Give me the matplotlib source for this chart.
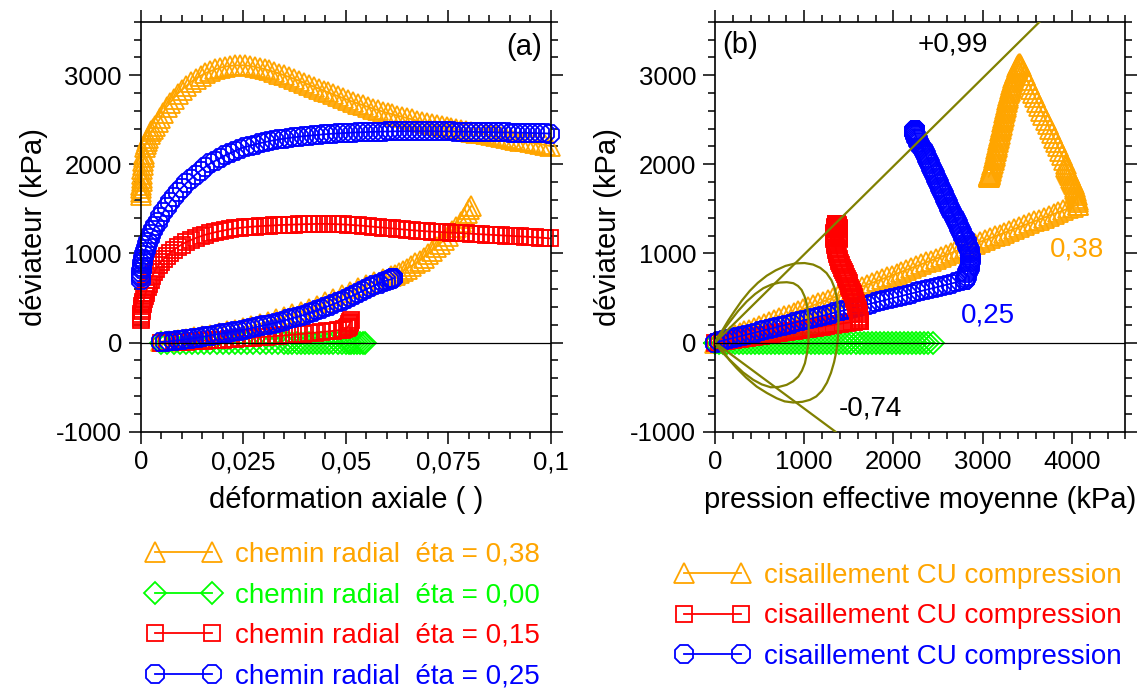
import matplotlib
matplotlib.use('Agg')
import matplotlib.pyplot as plt
from matplotlib.ticker import MultipleLocator

plt.rcParams['font.family'] = ['Liberation Sans', 'DejaVu Sans']
plt.rcParams['axes.unicode_minus'] = False

# ================= (a) déviateur q (kPa) en fonction de la déformation axiale =================
# chemins radiaux : (déformation axiale, q)
rad38_a = [(0.005, 12), (0.007, 22), (0.009, 32), (0.011, 44), (0.013, 57), (0.015, 72), (0.017, 88),
           (0.019, 106), (0.021, 125), (0.023, 145), (0.025, 166), (0.027, 188), (0.029, 211),
           (0.031, 236), (0.033, 262), (0.035, 289), (0.037, 318), (0.039, 348), (0.041, 380),
           (0.043, 414), (0.045, 450), (0.047, 488), (0.049, 528), (0.051, 568), (0.053, 608),
           (0.055, 645), (0.057, 680), (0.059, 712), (0.061, 742), (0.062, 760), (0.063, 780),
           (0.064, 805), (0.065, 830), (0.066, 858), (0.067, 888), (0.068, 920), (0.069, 954),
           (0.07, 990), (0.071, 1028), (0.072, 1068), (0.073, 1110), (0.074, 1154), (0.075, 1200),
           (0.076, 1248), (0.077, 1298), (0.078, 1350), (0.0788, 1400), (0.0795, 1450),
           (0.0801, 1495), (0.0806, 1530)]

rad00_a = [(0.005, 0), (0.0065, 0), (0.008, 0), (0.0095, 0), (0.011, 0), (0.0125, 0), (0.014, 0),
           (0.0155, 0), (0.017, 0), (0.0185, 0), (0.02, 0), (0.0215, 0), (0.023, 0), (0.0245, 0),
           (0.026, 0), (0.0275, 0), (0.029, 0), (0.0305, 0), (0.032, 0), (0.0335, 0), (0.035, 0),
           (0.036, 0), (0.037, 0), (0.038, 0), (0.039, 0), (0.04, 0), (0.041, 0), (0.042, 0),
           (0.043, 0), (0.044, 0), (0.045, 0), (0.046, 0), (0.047, 0), (0.048, 0), (0.049, 0),
           (0.05, 0), (0.0507, 0), (0.0514, 0), (0.0521, 0), (0.0528, 0), (0.0535, 0), (0.0541, 0),
           (0.0546, 0)]

rad15_a = [(0.005, 0), (0.0065, 2), (0.008, 4), (0.0095, 7), (0.011, 10), (0.0125, 13), (0.014, 17),
           (0.0155, 21), (0.017, 25), (0.0185, 29), (0.02, 33), (0.0215, 37), (0.023, 41),
           (0.0245, 46), (0.026, 50), (0.0275, 55), (0.029, 60), (0.0305, 65), (0.032, 70),
           (0.0335, 75), (0.035, 80), (0.0365, 86), (0.038, 92), (0.0395, 98), (0.041, 104),
           (0.0425, 110), (0.044, 117), (0.0455, 124), (0.047, 131), (0.048, 137), (0.049, 143),
           (0.0497, 150), (0.0502, 162), (0.0505, 175), (0.0507, 190), (0.0509, 205),
           (0.051, 220), (0.0511, 235), (0.0512, 250)]

rad25_a = [(0.005, 6), (0.006, 10), (0.007, 14), (0.008, 19), (0.009, 24), (0.01, 30), (0.011, 36),
           (0.012, 42), (0.013, 49), (0.014, 56), (0.015, 63), (0.016, 71), (0.017, 79), (0.018, 87),
           (0.019, 95), (0.02, 103), (0.021, 111), (0.022, 119), (0.023, 127), (0.024, 135),
           (0.025, 144), (0.026, 153), (0.027, 162), (0.028, 172), (0.029, 182), (0.03, 192),
           (0.031, 202), (0.032, 213), (0.033, 224), (0.034, 235), (0.035, 247), (0.036, 259),
           (0.037, 272), (0.038, 285), (0.039, 299), (0.04, 313), (0.041, 328), (0.042, 344),
           (0.043, 360), (0.044, 377), (0.045, 394), (0.046, 412), (0.047, 431), (0.048, 450),
           (0.049, 470), (0.05, 490), (0.051, 511), (0.052, 532), (0.053, 554), (0.054, 576),
           (0.055, 598), (0.056, 620), (0.057, 642), (0.058, 662), (0.059, 680), (0.0598, 693),
           (0.0605, 703), (0.061, 710), (0.0613, 715), (0.0615, 719), (0.0616, 722)]

# cisaillements CU : (déformation axiale, q)
cu38_a = [(0, 1650), (0.00005, 1690), (0.0001, 1730), (0.00015, 1770), (0.0002, 1810),
          (0.00025, 1850), (0.0003, 1890), (0.0004, 1945), (0.0005, 1995), (0.0006, 2040),
          (0.0007, 2080), (0.0008, 2120), (0.001, 2190), (0.0012, 2225), (0.0015, 2265),
          (0.0018, 2300), (0.0022, 2340), (0.0026, 2372), (0.0031, 2400), (0.0036, 2425),
          (0.0042, 2473), (0.0048, 2522), (0.0055, 2578), (0.0063, 2643), (0.0071, 2687),
          (0.008, 2737), (0.009, 2791), (0.01, 2833), (0.0111, 2878), (0.0122, 2922),
          (0.0134, 2962), (0.0146, 2993), (0.0158, 3023), (0.017, 3046), (0.0182, 3065),
          (0.0194, 3084), (0.0206, 3096), (0.0218, 3104), (0.023, 3109), (0.0242, 3111),
          (0.0254, 3110), (0.0266, 3104), (0.0278, 3094), (0.029, 3082), (0.0302, 3068),
          (0.0314, 3053), (0.0326, 3036), (0.0338, 3018), (0.035, 2999), (0.0362, 2979),
          (0.0374, 2959), (0.0386, 2938), (0.0398, 2916), (0.041, 2894), (0.0422, 2872),
          (0.0434, 2850), (0.0446, 2828), (0.0458, 2806), (0.047, 2784), (0.0482, 2763),
          (0.0494, 2742), (0.0506, 2721), (0.0518, 2701), (0.053, 2682), (0.0542, 2663),
          (0.0554, 2644), (0.0566, 2626), (0.0578, 2609), (0.059, 2592), (0.0602, 2576),
          (0.0614, 2561), (0.0626, 2546), (0.0638, 2532), (0.065, 2518), (0.0662, 2504),
          (0.0674, 2490), (0.0686, 2477), (0.0698, 2464), (0.071, 2452), (0.0722, 2440),
          (0.0734, 2428), (0.0746, 2417), (0.0758, 2406), (0.077, 2396), (0.0782, 2386),
          (0.0794, 2376), (0.0806, 2366), (0.0818, 2356), (0.083, 2346), (0.0842, 2336),
          (0.0854, 2326), (0.0866, 2316), (0.0878, 2306), (0.089, 2296), (0.0902, 2286),
          (0.0914, 2276), (0.0926, 2266), (0.0938, 2256), (0.095, 2246), (0.0962, 2236),
          (0.0974, 2226), (0.0986, 2216), (0.0998, 2206)]

cu15_a = [(0, 250), (0.00005, 275), (0.0001, 300), (0.00015, 325), (0.0002, 350), (0.0003, 380),
          (0.0004, 405), (0.0005, 430), (0.0006, 455), (0.0008, 490), (0.001, 525), (0.0012, 555),
          (0.0014, 585), (0.0017, 625), (0.002, 660), (0.0024, 705), (0.0028, 745), (0.0033, 790),
          (0.0038, 830), (0.0044, 870), (0.005, 905), (0.0057, 940), (0.0064, 975), (0.0072, 1010),
          (0.008, 1040), (0.009, 1070), (0.01, 1100), (0.0111, 1127), (0.0122, 1150),
          (0.0134, 1172), (0.0146, 1192), (0.0158, 1210), (0.017, 1225), (0.0182, 1238),
          (0.0194, 1250), (0.0206, 1261), (0.0218, 1271), (0.023, 1280), (0.0242, 1287),
          (0.0254, 1293), (0.0266, 1298), (0.0278, 1302), (0.029, 1306), (0.0302, 1309),
          (0.0314, 1312), (0.0326, 1315), (0.0338, 1318), (0.035, 1320), (0.0362, 1322),
          (0.0374, 1324), (0.0386, 1326), (0.0398, 1328), (0.041, 1329), (0.0422, 1330),
          (0.0434, 1331), (0.0446, 1331), (0.0458, 1330), (0.047, 1329), (0.0482, 1327),
          (0.0494, 1325), (0.0506, 1322), (0.0518, 1318), (0.053, 1314), (0.0542, 1310),
          (0.0554, 1305), (0.0566, 1300), (0.0578, 1295), (0.059, 1290), (0.0602, 1285),
          (0.0614, 1280), (0.0626, 1275), (0.0638, 1270), (0.065, 1265), (0.0662, 1260),
          (0.0674, 1256), (0.0686, 1252), (0.0698, 1248), (0.071, 1245), (0.0722, 1242),
          (0.0734, 1239), (0.0746, 1236), (0.0758, 1233), (0.077, 1230), (0.0782, 1227),
          (0.0794, 1224), (0.0806, 1221), (0.0818, 1218), (0.083, 1215), (0.0842, 1212),
          (0.0854, 1209), (0.0866, 1206), (0.0878, 1203), (0.089, 1200), (0.0902, 1197),
          (0.0914, 1194), (0.0926, 1191), (0.0938, 1188), (0.095, 1185), (0.0962, 1181),
          (0.0974, 1177), (0.0986, 1173), (0.0998, 1169)]

cu25_a = [(0, 700), (0.00005, 730), (0.0001, 760), (0.00015, 790), (0.0002, 820), (0.0003, 850),
          (0.0004, 880), (0.0005, 910), (0.0006, 940), (0.0008, 980), (0.001, 1020), (0.0012, 1055),
          (0.0015, 1095), (0.0018, 1130), (0.0022, 1175), (0.0026, 1220), (0.0031, 1265),
          (0.0036, 1305), (0.0042, 1355), (0.0048, 1405), (0.0055, 1460), (0.0063, 1525),
          (0.0071, 1575), (0.008, 1630), (0.009, 1690), (0.01, 1737), (0.0111, 1788),
          (0.0122, 1835), (0.0134, 1885), (0.0146, 1930), (0.0158, 1972), (0.017, 2010),
          (0.0182, 2040), (0.0194, 2070), (0.0206, 2100), (0.0218, 2125), (0.023, 2150),
          (0.0242, 2175), (0.0254, 2193), (0.0266, 2208), (0.0278, 2222), (0.029, 2236),
          (0.0302, 2248), (0.0314, 2260), (0.0326, 2270), (0.0338, 2280), (0.035, 2288),
          (0.0362, 2296), (0.0374, 2303), (0.0386, 2310), (0.0398, 2316), (0.041, 2321),
          (0.0422, 2326), (0.0434, 2331), (0.0446, 2336), (0.0458, 2340), (0.047, 2344),
          (0.0482, 2347), (0.0494, 2350), (0.0506, 2353), (0.0518, 2356), (0.053, 2358),
          (0.0542, 2360), (0.0554, 2362), (0.0566, 2364), (0.0578, 2366), (0.059, 2367),
          (0.0602, 2368), (0.0614, 2369), (0.0626, 2370), (0.0638, 2371), (0.065, 2371),
          (0.0662, 2371), (0.0674, 2371), (0.0686, 2371), (0.0698, 2371), (0.071, 2371),
          (0.0722, 2370), (0.0734, 2370), (0.0746, 2369), (0.0758, 2368), (0.077, 2367),
          (0.0782, 2366), (0.0794, 2365), (0.0806, 2364), (0.0818, 2363), (0.083, 2362),
          (0.0842, 2361), (0.0854, 2360), (0.0866, 2359), (0.0878, 2358), (0.089, 2357),
          (0.0902, 2356), (0.0914, 2355), (0.0926, 2354), (0.0938, 2353), (0.095, 2351),
          (0.0962, 2350), (0.0974, 2348), (0.0986, 2347), (0.0998, 2345)]

# ================= (b) déviateur q en fonction de la pression effective moyenne p' =================
rad38_b = [(0, 0), (55, 21), (110, 42), (165, 63), (220, 84), (275, 105), (330, 125), (385, 146),
           (440, 167), (495, 188), (550, 209), (605, 230), (660, 251), (715, 272), (770, 293),
           (825, 314), (880, 334), (935, 355), (990, 376), (1045, 397), (1100, 418), (1155, 439),
           (1210, 460), (1265, 481), (1320, 502), (1375, 523), (1430, 543), (1485, 564),
           (1540, 585), (1595, 606), (1650, 627), (1705, 648), (1760, 669), (1815, 690),
           (1870, 711), (1925, 732), (1980, 752), (2035, 773), (2090, 794), (2145, 815),
           (2200, 836), (2255, 857), (2310, 878), (2365, 899), (2420, 920), (2475, 941),
           (2530, 961), (2585, 982), (2640, 1003), (2695, 1024), (2750, 1045), (2805, 1066),
           (2860, 1087), (2915, 1108), (2970, 1129), (3025, 1150), (3080, 1170), (3135, 1191),
           (3190, 1212), (3245, 1233), (3300, 1254), (3355, 1275), (3410, 1296), (3465, 1317),
           (3520, 1338), (3575, 1359), (3630, 1379), (3685, 1400), (3740, 1421), (3795, 1442),
           (3850, 1463), (3905, 1484), (3960, 1505), (4015, 1526), (4070, 1547)]

rad00_b = [(0, 0), (45, 0), (90, 0), (135, 0), (180, 0), (225, 0), (270, 0), (315, 0), (360, 0),
           (405, 0), (450, 0), (495, 0), (540, 0), (585, 0), (630, 0), (675, 0), (720, 0), (765, 0),
           (810, 0), (855, 0), (900, 0), (945, 0), (990, 0), (1035, 0), (1080, 0), (1125, 0),
           (1170, 0), (1215, 0), (1260, 0), (1305, 0), (1350, 0), (1395, 0), (1440, 0), (1485, 0),
           (1530, 0), (1575, 0), (1620, 0), (1665, 0), (1710, 0), (1755, 0), (1800, 0), (1845, 0),
           (1890, 0), (1935, 0), (1980, 0), (2025, 0), (2070, 0), (2115, 0), (2160, 0), (2205, 0),
           (2250, 0), (2295, 0), (2340, 0), (2385, 0), (2440, 0)]

rad15_b = [(0, 0), (40, 6), (80, 12), (120, 18), (160, 24), (200, 30), (240, 36), (280, 42),
           (320, 48), (360, 54), (400, 60), (440, 66), (480, 72), (520, 78), (560, 84), (600, 90),
           (640, 96), (680, 102), (720, 108), (760, 114), (800, 120), (840, 126), (880, 132),
           (920, 138), (960, 144), (1000, 150), (1040, 156), (1080, 162), (1120, 168), (1160, 174),
           (1200, 180), (1240, 186), (1280, 192), (1320, 198), (1360, 204), (1400, 210),
           (1440, 216), (1480, 222), (1520, 228), (1560, 234), (1600, 240), (1620, 243)]

rad25_b = [(0, 0), (50, 12), (100, 25), (150, 38), (200, 50), (250, 62), (300, 75), (350, 88),
           (400, 100), (450, 112), (500, 125), (550, 138), (600, 150), (650, 162), (700, 175),
           (750, 188), (800, 200), (850, 212), (900, 225), (950, 238), (1000, 250), (1050, 262),
           (1100, 275), (1150, 288), (1200, 300), (1250, 312), (1300, 325), (1350, 338),
           (1400, 350), (1450, 362), (1500, 375), (1550, 388), (1600, 400), (1650, 412),
           (1700, 425), (1750, 438), (1800, 450), (1850, 462), (1900, 475), (1950, 488),
           (2000, 500), (2050, 512), (2100, 525), (2150, 538), (2200, 550), (2250, 562),
           (2300, 575), (2350, 588), (2400, 600), (2450, 612), (2500, 625), (2550, 638),
           (2600, 650), (2650, 662), (2700, 675), (2750, 688), (2800, 700)]

cu38_b = [(4070, 1547), (4068, 1575), (4065, 1600), (4060, 1625), (4055, 1650), (4050, 1675),
          (4045, 1700), (4038, 1725), (4030, 1750), (4020, 1775), (4010, 1800), (4000, 1825),
          (3990, 1850), (3980, 1875), (3970, 1900), (3960, 1925), (3950, 1950), (3940, 1975),
          (3930, 2000), (3908, 2050), (3887, 2100), (3865, 2150), (3843, 2200), (3820, 2250),
          (3797, 2300), (3774, 2350), (3751, 2400), (3728, 2450), (3705, 2500), (3682, 2550),
          (3659, 2600), (3636, 2650), (3613, 2700), (3590, 2750), (3566, 2800), (3542, 2850),
          (3518, 2900), (3494, 2950), (3470, 3000), (3450, 3050), (3432, 3100), (3420, 3130),
          (3410, 3125), (3400, 3110), (3390, 3090), (3380, 3070), (3371, 3045), (3362, 3020),
          (3353, 2995), (3345, 2970), (3337, 2945), (3330, 2920), (3323, 2895), (3316, 2870),
          (3309, 2845), (3302, 2820), (3295, 2795), (3289, 2770), (3282, 2745), (3276, 2720),
          (3270, 2695), (3264, 2670), (3258, 2645), (3252, 2620), (3246, 2595), (3241, 2570),
          (3235, 2545), (3230, 2520), (3224, 2495), (3219, 2470), (3213, 2445), (3208, 2420),
          (3202, 2395), (3197, 2370), (3191, 2345), (3186, 2320), (3180, 2295), (3175, 2270),
          (3169, 2245), (3164, 2220), (3158, 2195), (3152, 2170), (3146, 2145), (3140, 2120),
          (3134, 2095), (3128, 2070), (3122, 2045), (3116, 2020), (3110, 1995), (3104, 1970),
          (3098, 1945), (3092, 1920), (3087, 1905), (3082, 1890), (3078, 1882), (3075, 1875),
          (3072, 1870), (3070, 1865), (3068, 1862), (3066, 1860)]

cu15_b = [(1620, 243), (1618, 265), (1615, 290), (1610, 315), (1605, 340), (1599, 365),
          (1592, 390), (1585, 415), (1577, 440), (1569, 465), (1561, 490), (1553, 515),
          (1544, 540), (1535, 565), (1526, 590), (1517, 615), (1507, 640), (1497, 665),
          (1487, 690), (1477, 715), (1466, 740), (1456, 765), (1445, 790), (1435, 815),
          (1424, 840), (1414, 865), (1404, 890), (1395, 915), (1386, 940), (1378, 965),
          (1370, 990), (1363, 1015), (1357, 1040), (1352, 1065), (1347, 1090), (1344, 1115),
          (1341, 1140), (1339, 1160), (1338, 1180), (1338, 1198), (1338, 1215), (1339, 1230),
          (1340, 1245), (1342, 1258), (1343, 1270), (1345, 1280), (1347, 1290), (1349, 1298),
          (1351, 1305), (1353, 1311), (1355, 1317), (1357, 1322), (1358, 1326), (1360, 1329),
          (1361, 1332), (1362, 1334), (1363, 1335), (1366, 1333), (1368, 1330), (1372, 1323),
          (1375, 1315), (1379, 1305), (1382, 1295), (1385, 1283), (1388, 1270), (1390, 1258),
          (1392, 1245), (1393, 1232), (1394, 1220), (1395, 1207), (1395, 1195), (1395, 1185),
          (1395, 1175), (1394, 1170), (1394, 1165)]

cu25_b = [(2800, 700), (2810, 725), (2820, 750), (2830, 775), (2840, 800), (2848, 825),
          (2855, 850), (2860, 875), (2863, 900), (2865, 925), (2865, 950), (2863, 975),
          (2860, 1000), (2855, 1025), (2848, 1050), (2840, 1075), (2830, 1100), (2820, 1125),
          (2808, 1150), (2797, 1175), (2785, 1200), (2772, 1225), (2760, 1250), (2748, 1275),
          (2735, 1300), (2722, 1325), (2710, 1350), (2698, 1375), (2686, 1400), (2674, 1425),
          (2662, 1450), (2650, 1475), (2638, 1500), (2626, 1525), (2614, 1550), (2602, 1575),
          (2590, 1600), (2578, 1625), (2566, 1650), (2555, 1675), (2543, 1700), (2531, 1725),
          (2520, 1750), (2509, 1775), (2498, 1800), (2487, 1825), (2477, 1850), (2466, 1875),
          (2456, 1900), (2445, 1925), (2435, 1950), (2424, 1975), (2413, 2000), (2402, 2025),
          (2390, 2050), (2378, 2075), (2366, 2100), (2353, 2125), (2340, 2150), (2327, 2173),
          (2314, 2195), (2302, 2215), (2290, 2235), (2280, 2253), (2270, 2270), (2263, 2285),
          (2256, 2300), (2251, 2313), (2246, 2325), (2243, 2335), (2240, 2345), (2238, 2352),
          (2237, 2358), (2236, 2363), (2236, 2367), (2236, 2371), (2236, 2375), (2237, 2379),
          (2237, 2383), (2238, 2387), (2238, 2390)]

# droites de rupture (pentes +0,99 et -0,74) et surfaces de charge
rupture_comp = [(0, 0), (3640, 3600)]
rupture_ext = [(0, 0), (1350, -1000)]

surface_1 = [(0, 0), (40, 75), (90, 150), (150, 250), (220, 355), (300, 470), (390, 580),
             (480, 670), (580, 750), (680, 810), (790, 860), (900, 888), (1005, 892),
             (1100, 875), (1180, 838), (1250, 780), (1305, 700), (1345, 600), (1368, 490),
             (1380, 370), (1384, 250), (1381, 141), (1375, 20), (1360, -100), (1335, -220),
             (1300, -340), (1255, -450), (1200, -540), (1135, -605), (1064, -643), (980, -665),
             (878, -673), (780, -660), (691, -625), (580, -565), (467, -494), (350, -395),
             (243, -288), (160, -195), (93, -101), (40, -40), (0, 0)]
surface_2 = [(0, 0), (50, 70), (110, 160), (168, 236), (260, 355), (355, 460), (450, 545),
             (542, 610), (635, 652), (725, 673), (805, 677), (878, 666), (930, 635), (971, 590),
             (1003, 520), (1027, 441), (1042, 330), (1050, 216), (1050, 100), (1046, -8),
             (1030, -125), (1008, -232), (975, -315), (934, -382), (875, -435), (803, -475),
             (715, -498), (624, -502), (525, -470), (430, -419), (315, -335), (205, -232),
             (130, -160), (75, -101), (30, -45), (0, 0)]

xticks_a = [0, 0.025, 0.05, 0.075, 0.1]
xlabels_a = ['0', '0,025', '0,05', '0,075', '0,1']
xticks_b = [0, 1000, 2000, 3000, 4000]
xlabels_b = ['0', '1000', '2000', '3000', '4000']
yticks = [-1000, 0, 1000, 2000, 3000]
ylabels = ['-1000', '0', '1000', '2000', '3000']

ORANGE = '#FFA500'
VERT = '#00FF00'
ROUGE = '#FF0000'
BLEU = '#0000FF'
OLIVE = '#808000'

sty38 = dict(color=ORANGE, marker='^', ms=14)
sty00 = dict(color=VERT, marker='D', ms=11.5)
sty15 = dict(color=ROUGE, marker='s', ms=12)
sty25 = dict(color=BLEU, marker='8', ms=13.5)
common = dict(mfc='none', mew=1.3, lw=1.3, clip_on=False)


def courbe(ax, pts, sty):
    x, y = zip(*pts)
    line, = ax.plot(x, y, **sty, **common)
    return line


fig = plt.figure(figsize=(11.44, 6.91), dpi=100)
ax1 = fig.add_axes([0.1230, 0.3753, 0.3584, 0.5933])
ax2 = fig.add_axes([0.6250, 0.3753, 0.3587, 0.5933])

# (a)
h38 = courbe(ax1, rad38_a, sty38)
h00 = courbe(ax1, rad00_a, sty00)
h15 = courbe(ax1, rad15_a, sty15)
h25 = courbe(ax1, rad25_a, sty25)
c38 = courbe(ax1, cu38_a, sty38)
c15 = courbe(ax1, cu15_a, sty15)
c25 = courbe(ax1, cu25_a, sty25)

# (b)
courbe(ax2, rad38_b, sty38)
courbe(ax2, rad00_b, sty00)
courbe(ax2, rad15_b, sty15)
courbe(ax2, rad25_b, sty25)
courbe(ax2, cu38_b, sty38)
courbe(ax2, cu15_b, sty15)
courbe(ax2, cu25_b, sty25)

for pts in (rupture_comp, rupture_ext, surface_1, surface_2):
    x, y = zip(*pts)
    ax2.plot(x, y, color=OLIVE, lw=1.6, zorder=5)

for ax in (ax1, ax2):
    ax.axhline(0, color='black', lw=0.9, zorder=6)
    ax.set_ylim(-1000, 3600)
    ax.set_yticks(yticks)
    ax.set_yticklabels(ylabels)
    ax.yaxis.set_minor_locator(MultipleLocator(200))
    ax.tick_params(which='both', direction='out', top=True, right=True,
                   width=1.1, labelsize=18.5, pad=5)
    ax.tick_params(which='major', length=8.5)
    ax.tick_params(which='minor', length=5)
    for s in ax.spines.values():
        s.set_linewidth(1.2)
    ax.set_ylabel('déviateur (kPa)', fontsize=21, labelpad=6)

ax1.set_xlim(0, 0.1)
ax1.set_xticks(xticks_a)
ax1.set_xticklabels(xlabels_a)
ax1.xaxis.set_minor_locator(MultipleLocator(0.005))
ax1.set_xlabel('déformation axiale ( )', fontsize=21, labelpad=8)

ax2.set_xlim(0, 4600)
ax2.set_xticks(xticks_b)
ax2.set_xticklabels(xlabels_b)
ax2.xaxis.set_minor_locator(MultipleLocator(200))
ax2.set_xlabel('pression effective moyenne (kPa)', fontsize=21, labelpad=8)

ax1.text(0.0935, 3318, '(a)', fontsize=21, ha='center', va='center')
ax2.text(280, 3340, '(b)', fontsize=21, ha='center', va='center')
ax2.text(2667, 3340, '+0,99', fontsize=20, ha='center', va='center')
ax2.text(1737, -745, '-0,74', fontsize=20, ha='center', va='center')
ax2.text(4056, 1039, '0,38', fontsize=20, ha='center', va='center', color=ORANGE)
ax2.text(3059, 298, '0,25', fontsize=20, ha='center', va='center', color=BLEU)

leg_kw = dict(loc='upper left', frameon=False, numpoints=2, handlelength=2.65,
              handletextpad=0.53, labelspacing=0.52, borderpad=0, borderaxespad=0,
              fontsize=20, labelcolor='linecolor')
fig.legend([h38, h00, h15, h25],
           ['chemin radial  éta = 0,38', 'chemin radial  éta = 0,00',
            'chemin radial  éta = 0,15', 'chemin radial  éta = 0,25'],
           bbox_to_anchor=(0.1282, 0.2157), **leg_kw)
fig.legend([c38, c15, c25],
           ['cisaillement CU compression'] * 3,
           bbox_to_anchor=(0.5906, 0.1852), **leg_kw)

fig.savefig('out.png', dpi=100)
